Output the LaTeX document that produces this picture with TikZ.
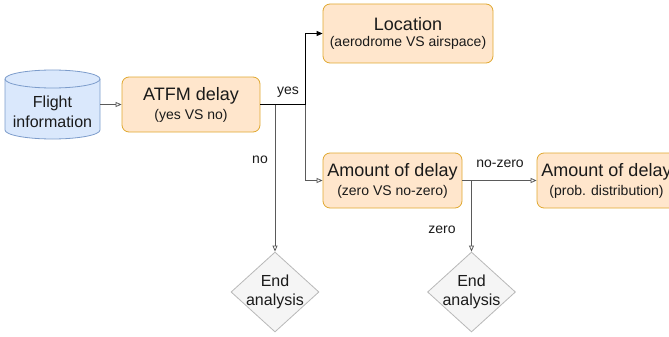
\documentclass[tikz,border=0pt]{standalone}
\usepackage{fontspec}
\setmainfont{Liberation Sans}
\usetikzlibrary{arrows.meta,shapes.geometric}
\definecolor{ofill}{HTML}{FFE6CC}
\definecolor{ostroke}{HTML}{E0A830}
\definecolor{bfill}{HTML}{DAE8FC}
\definecolor{bstroke}{HTML}{7C9CCB}
\definecolor{gfill}{HTML}{F5F5F5}
\definecolor{gstroke}{HTML}{B8B8B8}
\definecolor{lgray}{HTML}{5A5A5A}
\definecolor{tcol}{HTML}{1A1A1A}
\begin{document}
\begin{tikzpicture}[x=1pt,y=-1pt,
  obox/.style={draw=ostroke, fill=ofill, rounded corners=7pt, line width=0.8pt,
    minimum height=55pt, inner sep=0pt, align=center, text=tcol},
  dmd/.style={diamond, draw=gstroke, fill=gfill, line width=0.8pt,
    minimum width=88pt, minimum height=80pt, inner sep=0pt},
  dtxt/.style={align=center, font=\fontsize{16}{19}\selectfont, text=tcol},
  gline/.style={draw=lgray, line width=0.8pt, -{Triangle[open, length=6pt, width=5pt]}},
  bline/.style={draw=black, line width=0.8pt, -{Triangle[length=6pt, width=5pt]}},
  lbl/.style={font=\fontsize{14}{16}\selectfont, text=tcol, inner sep=0pt}]
\useasboundingbox (0,0) rectangle (669,337);

% cylinder
\fill[bfill] (5,79) -- (5,130) arc[start angle=180, end angle=360, x radius=47.5pt, y radius=9pt]
  -- (100,79) arc[start angle=0, end angle=180, x radius=47.5pt, y radius=9pt] -- cycle;
\draw[bstroke, line width=0.8pt] (5,79) -- (5,130) arc[start angle=180, end angle=360, x radius=47.5pt, y radius=9pt]
  -- (100,79) arc[start angle=0, end angle=180, x radius=47.5pt, y radius=9pt];
\draw[bstroke, line width=0.8pt] (5,79) arc[start angle=180, end angle=360, x radius=47.5pt, y radius=9pt];
\node[minimum width=95pt, minimum height=69pt, inner sep=0pt] (fi) at (52.5,104.5) {};
\node[align=center, font=\fontsize{16}{20}\selectfont, text=tcol] (fitxt) at (52.5,112) {Flight\\information};

% boxes
\node[obox, minimum width=138pt] (atfm) at (191,104.5)
  {{\fontsize{18}{20}\selectfont ATFM delay}\\[4pt]{\fontsize{14}{16}\selectfont (yes VS no)}};
\node[obox, minimum width=170pt, minimum height=59pt] (loc) at (408,33.5)
  {{\fontsize{18}{20}\selectfont Location}\\[4pt]{\fontsize{14}{16}\selectfont (aerodrome VS airspace)}};
\node[obox, minimum width=139pt] (amt) at (392.5,180.5)
  {{\fontsize{18}{20}\selectfont Amount of delay}\\[4pt]{\fontsize{14}{16}\selectfont (zero VS no-zero)}};
\node[obox, minimum width=139pt] (amt2) at (606.5,180.5)
  {{\fontsize{18}{20}\selectfont Amount of delay}\\[4pt]{\fontsize{14}{16}\selectfont (prob. distribution)}};

% diamonds
\node[dmd] (end1) at (275,292) {};
\node[dtxt] (end1txt) at (end1.center) {End\\analysis};
\node[dmd] (end2) at (471.5,292) {};
\node[dtxt] (end2txt) at (end2.center) {End\\analysis};

% connectors
\coordinate (j1) at (305,104.5);
\draw[gline] (fi.east) -- (atfm.west);
\draw[gline] (atfm.east) -| (end1.north);
\draw[gline] (atfm.east) -- (j1) |- (amt.west);
\draw[bline] (atfm.east) -- (j1) |- (loc.west);
\draw[gline] (amt.east) -- (amt2.west);
\draw[gline] (amt.east) -| (end2.north);

% labels
\node[lbl] (lyes) at (288,92) {yes};
\node[lbl] (lno) at (260,160) {no};
\node[lbl] (lnz) at (500,164) {no-zero};
\node[lbl] (lz) at (442,230) {zero};
\end{tikzpicture}
\end{document}
